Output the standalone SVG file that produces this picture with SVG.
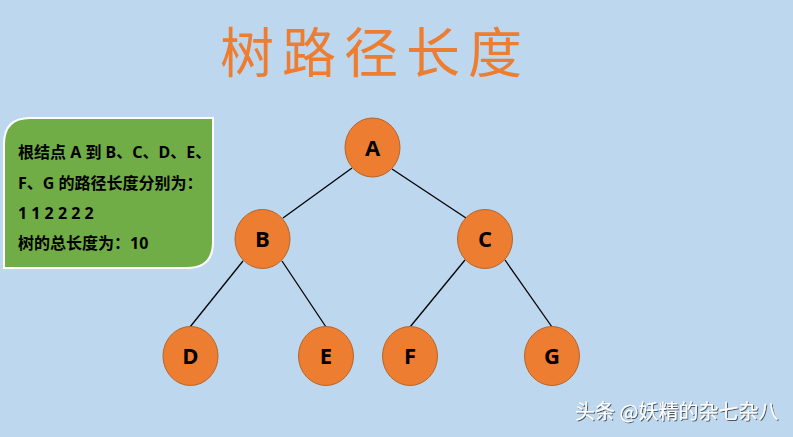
<svg xmlns="http://www.w3.org/2000/svg" width="793" height="437" viewBox="0 0 793 437">
<defs>
<style>
.node ellipse{fill:#ED7D31;stroke:#B86428;stroke-width:1}
.node text{font-family:"Open Sans","Noto Sans",sans-serif;font-weight:bold;font-size:22px;fill:#000;text-anchor:middle}
.edge{stroke:#000;stroke-width:1.3}
.info{font-family:"Noto Sans","Noto Sans CJK SC",sans-serif;font-weight:bold;font-size:16px;fill:#000}
</style>
<filter id="sh" x="-10%" y="-30%" width="120%" height="160%"><feDropShadow dx="1" dy="1" stdDeviation="0.6" flood-color="#000" flood-opacity="0.6"/></filter>
</defs>
<rect width="793" height="437" fill="#BDD7EE"/>
<text x="375" y="73" font-family="'Noto Sans CJK SC',sans-serif" font-size="54" font-weight="400" fill="#ED7D31" text-anchor="middle" letter-spacing="8">树路径长度</text>
<g id="info">
<path d="M30,118 H213 V242 Q213,268 187,268 H4 V144 Q4,118 30,118 Z" fill="#70AD47" stroke="#fff" stroke-width="2"/>
<text class="info" x="18" y="158">根结点 A 到 B、C、D、E、</text>
<text class="info" x="18" y="189">F、G 的路径长度分别为：</text>
<text class="info" x="18" y="219">1 1 2 2 2 2</text>
<text class="info" x="18" y="249">树的总长度为：10</text>
</g>
<g id="edges">
<line class="edge" x1="352" y1="168" x2="283" y2="218"/>
<line class="edge" x1="392" y1="169" x2="466" y2="218"/>
<line class="edge" x1="243" y1="261" x2="190" y2="327"/>
<line class="edge" x1="282" y1="261" x2="326" y2="327"/>
<line class="edge" x1="465" y1="260" x2="410" y2="327"/>
<line class="edge" x1="505" y1="260" x2="552" y2="327"/>
</g>
<g id="A" class="node"><ellipse cx="372.5" cy="147.5" rx="27.5" ry="29.5"/><text x="372.5" y="155.5">A</text></g>
<g id="B" class="node"><ellipse cx="262.5" cy="239" rx="27.5" ry="29.5"/><text x="262.5" y="247">B</text></g>
<g id="C" class="node"><ellipse cx="485" cy="239" rx="27.5" ry="29.5"/><text x="485" y="247">C</text></g>
<g id="D" class="node"><ellipse cx="190.5" cy="356" rx="27.5" ry="29.5"/><text x="190.5" y="364">D</text></g>
<g id="E" class="node"><ellipse cx="326" cy="356" rx="27.5" ry="29.5"/><text x="326" y="364">E</text></g>
<g id="F" class="node"><ellipse cx="410" cy="356" rx="27.5" ry="29.5"/><text x="410" y="364">F</text></g>
<g id="G" class="node"><ellipse cx="552" cy="356" rx="27.5" ry="29.5"/><text x="552" y="364">G</text></g>
<text x="575" y="419" font-family="'Noto Sans CJK SC',sans-serif" font-size="20" fill="#fff" filter="url(#sh)">头条 @妖精的杂七杂八</text>
</svg>
